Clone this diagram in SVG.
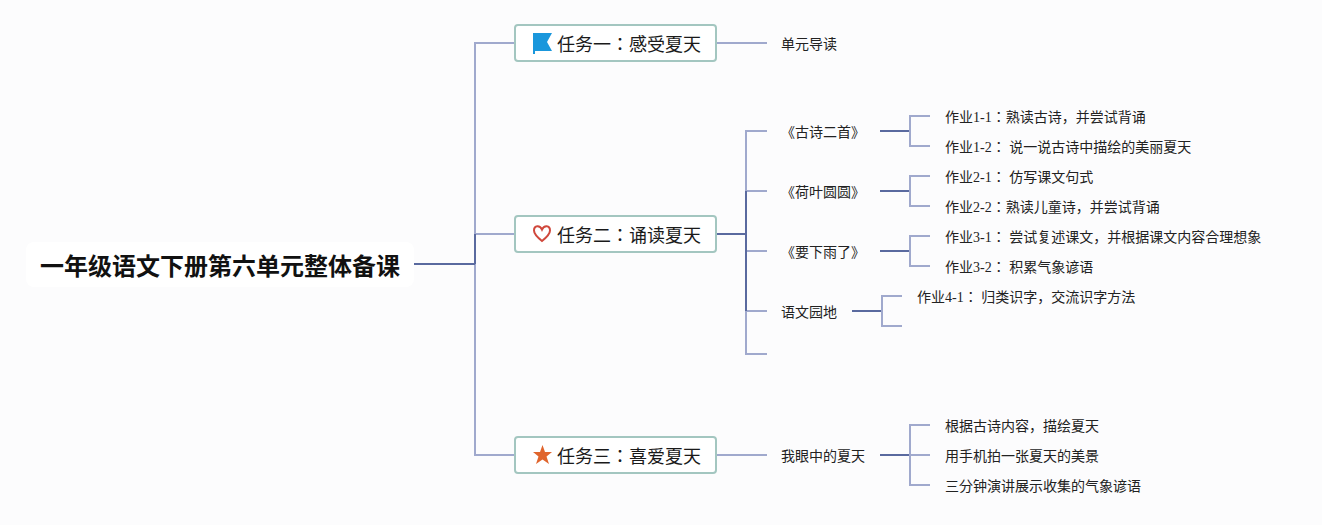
<svg xmlns="http://www.w3.org/2000/svg" width="1322" height="525" viewBox="0 0 1322 525">
<style>
text{font-family:"Liberation Serif","Noto Sans CJK JP",sans-serif;fill:#222}
.t{font-size:14px}
.m{font-size:18px;font-family:"Noto Sans CJK JP",sans-serif;fill:#1a1a1a}
.r{font-size:24px;font-weight:700;font-family:"Noto Sans CJK JP",sans-serif;fill:#111}
.box{fill:#fff;stroke:#a3c6c0;stroke-width:2}
.l{fill:none;stroke:#a0a9cd;stroke-width:2}
.d{fill:none;stroke:#5a6a9f;stroke-width:2}
</style>
<rect width="1322" height="525" fill="#fcfcfd"/>
<g id="connectors">
<path class="l" d="M515 43H475V455H515M475 234H515"/>
<path class="d" d="M414 264H475M475 234V264"/>
<path class="l" d="M716 43H767"/>
<path class="d" d="M716 234H746"/>
<path class="l" d="M767 131H746V354H767M746 191H767M746 251H767M746 311H767"/>
<path class="d" d="M746 191V311"/>
<path class="d" d="M880 131H910"/><path class="l" d="M930 116H910V146H930"/>
<path class="d" d="M880 191H910"/><path class="l" d="M930 176H910V206H930"/>
<path class="d" d="M880 251H910"/><path class="l" d="M930 236H910V266H930"/>
<path class="d" d="M852 311H882"/><path class="l" d="M902 296H882V326H902"/>
<path class="l" d="M716 455H767"/>
<path class="d" d="M880 455H910"/><path class="l" d="M930 425H910V485H930M910 455H930"/>
</g>
<g id="root"><rect x="26" y="242" width="388" height="45" rx="8" fill="#fff"/><text class="r" x="40" y="275">一年级语文下册第六单元整体备课</text></g>
<g id="task1"><rect class="box" x="515" y="25" width="201" height="36" rx="3"/>
<path d="M533 33H552L547 42L552 51H535V54H533Z" fill="#1a97dc"/>
<text class="m" x="557" y="51">任务一：感受夏天</text></g>
<g id="task2"><rect class="box" x="515" y="216" width="201" height="36" rx="3"/>
<path d="M542 241C537 237 534 234 534 230.500C534 225 540 225 542 229.500C544 225 550 225 550 230.500C550 234 547 237 542 241Z" fill="none" stroke="#d0483c" stroke-width="2"/>
<text class="m" x="557" y="242">任务二：诵读夏天</text></g>
<g id="task3"><rect class="box" x="515" y="437" width="201" height="36" rx="3"/>
<polygon points="542.500,445 545,452 552,452 546.500,456.500 549,464 542.500,459.500 536,464 538.500,456.500 533,452 540,452" fill="#e0652d"/>
<text class="m" x="557" y="463">任务三：喜爱夏天</text></g>
<g id="n1"><text class="t" x="781" y="49">单元导读</text></g>
<g id="n2"><text class="t" x="781" y="137">《古诗二首》</text></g>
<g id="n3"><text class="t" x="781" y="197">《荷叶圆圆》</text></g>
<g id="n4"><text class="t" x="781" y="257">《要下雨了》</text></g>
<g id="n5"><text class="t" x="781" y="317">语文园地</text></g>
<g id="n6"><text class="t" x="781" y="461">我眼中的夏天</text></g>
<g id="h11"><text class="t" x="945" y="122">作业1-1：熟读古诗，并尝试背诵</text></g>
<g id="h12"><text class="t" x="945" y="152">作业1-2： 说一说古诗中描绘的美丽夏天</text></g>
<g id="h21"><text class="t" x="945" y="182">作业2-1： 仿写课文句式</text></g>
<g id="h22"><text class="t" x="945" y="212">作业2-2：熟读儿童诗，并尝试背诵</text></g>
<g id="h31"><text class="t" x="945" y="242">作业3-1： 尝试复述课文，并根据课文内容合理想象</text></g>
<g id="h32"><text class="t" x="945" y="272">作业3-2： 积累气象谚语</text></g>
<g id="h41"><text class="t" x="917" y="302">作业4-1： 归类识字，交流识字方法</text></g>
<g id="s1"><text class="t" x="945" y="431">根据古诗内容，描绘夏天</text></g>
<g id="s2"><text class="t" x="945" y="461">用手机拍一张夏天的美景</text></g>
<g id="s3"><text class="t" x="945" y="491">三分钟演讲展示收集的气象谚语</text></g>
</svg>
